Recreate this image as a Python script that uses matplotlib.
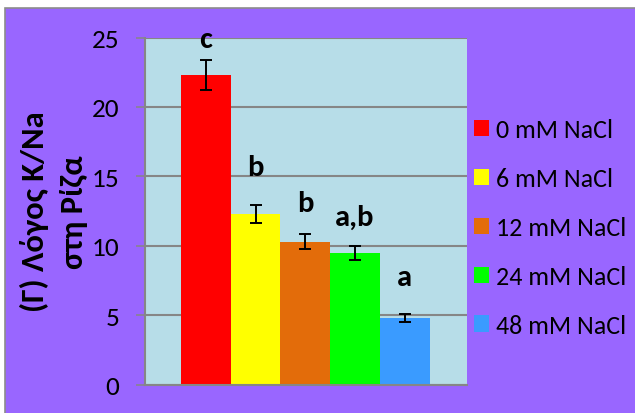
import matplotlib
matplotlib.use('Agg')
from matplotlib import pyplot as plt
from matplotlib.patches import Rectangle, Patch

plt.rcParams['font.family'] = ['Carlito', 'DejaVu Sans']

# K/Na ratio in root per NaCl treatment
treatments = ['0 mM NaCl', '6 mM NaCl', '12 mM NaCl', '24 mM NaCl', '48 mM NaCl']
ratio      = [22.3, 12.3, 10.3, 9.5, 4.8]
ratio_err  = [1.1, 0.63, 0.55, 0.5, 0.27]
groups     = ['c', 'b', 'b', 'a,b', 'a']
group_y    = [24.3, 15.1, 12.5, 11.5, 7.2]
colors     = ['#FF0000', '#FFFF00', '#E36C0A', '#00FF00', '#3A9BFF']

purple = '#9966FF'
grid_c = '#868686'

fig = plt.figure(figsize=(6.35, 4.14), dpi=100, facecolor='white')
# chart area background with thin grey border on top and left
fig.patches.append(Rectangle((4.5/635, -0.05), 1.1, 1.05 - 8.5/414, transform=fig.transFigure,
                             facecolor=purple, edgecolor='#8C8C8C', linewidth=1.2, zorder=-10))

ax = fig.add_axes([145/635, 1 - 385.7/414, (466.7 - 145)/635, (385.7 - 38.5)/414])
ax.set_facecolor('#B7DDE8')

xpos = list(range(len(ratio)))
ax.bar(xpos, ratio, width=1.0, color=colors, label=treatments, zorder=2)
ax.errorbar(xpos, ratio, yerr=ratio_err, fmt='none', ecolor='black', elinewidth=1.4,
            capsize=4.3, capthick=1.4, zorder=3)
for x, g, gy in zip(xpos, groups, group_y):
    ax.text(x, gy, g, ha='center', va='baseline', fontsize=22, fontweight='bold')

ax.set_xlim(-1.223, 5.243)
ax.set_ylim(0, 25)
ax.set_yticks([0, 5, 10, 15, 20, 25])
ax.set_xticks([])
ax.yaxis.grid(True, color=grid_c, linewidth=1.5)
ax.set_axisbelow(True)
for s in ['top', 'right']:
    ax.spines[s].set_visible(False)
for s in ['left', 'bottom']:
    ax.spines[s].set_color(grid_c)
    ax.spines[s].set_linewidth(1.5)
ax.tick_params(axis='y', direction='out', length=6.3, width=1.1, color=grid_c,
               labelsize=19.6, pad=12)

fig.text(54/635, 1 - 212/414, '(Γ) Λόγος K/Na\nστη Ρίζα', rotation=90, ha='center', va='center',
         multialignment='center', fontsize=23.5, fontweight='bold', linespacing=1.5)

handles = [Patch(facecolor=c) for c in colors]
fig.legend(handles, treatments, loc='center left', bbox_to_anchor=(474/635, 1 - 228.3/414),
           frameon=False, fontsize=18.7, borderpad=0, borderaxespad=0,
           handlelength=0.58, handleheight=0.58, handletextpad=0.25, labelspacing=1.0)

fig.savefig('out.png', dpi=100, facecolor='white')
